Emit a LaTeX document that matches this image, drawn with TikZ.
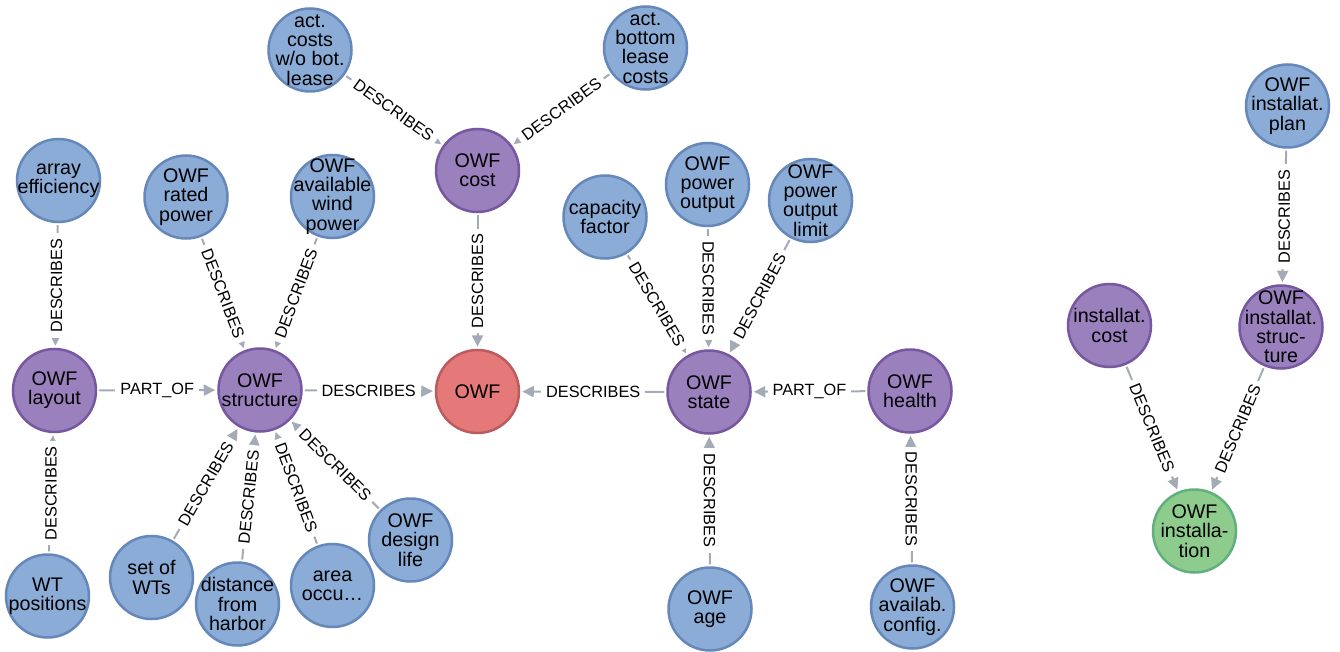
\documentclass[tikz,border=0pt]{standalone}
\usepackage{fontspec}
\setmainfont{Liberation Sans}
\usetikzlibrary{arrows.meta}
\definecolor{bfill}{HTML}{8AACD6}
\definecolor{bline}{HTML}{6587BA}
\definecolor{pfill}{HTML}{9B80BE}
\definecolor{pline}{HTML}{7657A0}
\definecolor{rfill}{HTML}{E57878}
\definecolor{rline}{HTML}{BA5C5F}
\definecolor{gfill}{HTML}{8ECC8E}
\definecolor{gline}{HTML}{60B07E}
\definecolor{egray}{HTML}{A5ABB6}
\begin{document}
\begin{tikzpicture}[x=1pt,y=-1pt,
  base/.style={circle, minimum size=83pt, inner sep=0pt, line width=2.5pt},
  ntext/.style={align=center, inner sep=0pt, text=black,
    font=\fontsize{19.7}{19.3}\selectfont},
  bluen/.style={base, fill=bfill, draw=bline},
  purpn/.style={base, fill=pfill, draw=pline},
  redn/.style={base, fill=rfill, draw=rline},
  greenn/.style={base, fill=gfill, draw=gline},
  rel/.style={draw=egray, line width=2pt, -{Triangle[length=11.5pt,width=11pt]},
    shorten <=2pt, shorten >=2pt},
  lbl/.style={fill=white, inner xsep=5pt, inner ysep=1pt,
    font=\fontsize{16.3}{16}\selectfont, text=black}]
\useasboundingbox (0,0) rectangle (1340,652);

% nodes
\node[bluen, label={[ntext]center:{act.\\costs\\w/o bot.\\lease}}] (actc) at (310,50) {};
\node[bluen, label={[ntext]center:{act.\\bottom\\lease\\costs}}] (actb) at (645.5,48) {};
\node[purpn, label={[ntext]center:{OWF\\cost}}] (cost) at (477.5,170.5) {};
\node[bluen, label={[ntext]center:{array\\efficiency}}] (arr) at (58.5,180.5) {};
\node[bluen, label={[ntext]center:{OWF\\rated\\power}}] (rated) at (186,197) {};
\node[bluen, label={[ntext]center:{OWF\\available\\wind\\power}}] (avail) at (332.5,196.5) {};
\node[bluen, label={[ntext]center:{capacity\\factor}}] (cap) at (605,217) {};
\node[bluen, label={[ntext]center:{OWF\\power\\output}}] (pout) at (707.5,184.5) {};
\node[bluen, label={[ntext]center:{OWF\\power\\output\\limit}}] (plim) at (810.5,200.5) {};
\node[bluen, label={[ntext]center:{OWF\\installat.\\plan}}] (plan) at (1287.5,106) {};
\node[purpn, label={[ntext]center:{OWF\\layout}}] (layout) at (54.5,390.5) {};
\node[purpn, label={[ntext]center:{OWF\\structure}}] (struct) at (260,390) {};
\node[redn, label={[ntext]center:{OWF}}] (owf) at (477.5,391.5) {};
\node[purpn, label={[ntext]center:{OWF\\state}}] (state) at (709,392) {};
\node[purpn, label={[ntext]center:{OWF\\health}}] (health) at (910,391) {};
\node[purpn, label={[ntext]center:{installat.\\cost}}] (icost) at (1109.5,325.5) {};
\node[purpn, label={[ntext]center:{OWF\\installat.\\struc-\\ture}}] (istruct) at (1281,327) {};
\node[greenn, label={[ntext]center:{OWF\\installa-\\tion}}] (inst) at (1194.5,531) {};
\node[bluen, label={[ntext]center:{WT\\positions}}] (wtpos) at (47.5,596) {};
\node[bluen, label={[ntext]center:{set of\\WTs}}] (setwt) at (151.5,577.5) {};
\node[bluen, label={[ntext]center:{distance\\from\\harbor}}] (dist) at (237.5,604) {};
\node[bluen, label={[ntext]center:{area\\occu…}}] (area) at (332.5,585.5) {};
\node[bluen, label={[ntext]center:{OWF\\design\\life}}] (design) at (410.5,540) {};
\node[bluen, label={[ntext]center:{OWF\\age}}] (age) at (710,609) {};
\node[bluen, label={[ntext]center:{OWF\\availab.\\config.}}] (conf) at (912.5,607) {};

% edges
\draw[rel] (actc) -- node[lbl, sloped]{DESCRIBES} (cost);
\draw[rel] (actb) -- node[lbl, sloped]{DESCRIBES} (cost);
\draw[rel] (cost) -- node[lbl, rotate=90]{DESCRIBES} (owf);
\draw[rel] (arr) -- node[lbl, rotate=90]{DESCRIBES} (layout);
\draw[rel] (rated) -- node[lbl, sloped]{DESCRIBES} (struct);
\draw[rel] (avail) -- node[lbl, sloped]{DESCRIBES} (struct);
\draw[rel] (layout) -- node[lbl]{PART\_OF} (struct);
\draw[rel] (struct) -- node[lbl]{DESCRIBES} (owf);
\draw[rel] (state) -- node[lbl]{DESCRIBES} (owf);
\draw[rel] (health) -- node[lbl]{PART\_OF} (state);
\draw[rel] (wtpos) -- node[lbl, rotate=90]{DESCRIBES} (layout);
\draw[rel] (setwt) -- node[lbl, sloped]{DESCRIBES} (struct);
\draw[rel] (dist) -- node[lbl, sloped]{DESCRIBES} (struct);
\draw[rel] (area) -- node[lbl, sloped]{DESCRIBES} (struct);
\draw[rel] (design) -- node[lbl, sloped]{DESCRIBES} (struct);
\draw[rel] (cap) -- node[lbl, sloped]{DESCRIBES} (state);
\draw[rel] (pout) -- node[lbl, rotate=-90]{DESCRIBES} (state);
\draw[rel] (plim) -- node[lbl, sloped]{DESCRIBES} (state);
\draw[rel] (age) -- node[lbl, rotate=-90]{DESCRIBES} (state);
\draw[rel] (conf) -- node[lbl, rotate=-90]{DESCRIBES} (health);
\draw[rel] (plan) -- node[lbl, rotate=90]{DESCRIBES} (istruct);
\draw[rel] (icost) -- node[lbl, sloped]{DESCRIBES} (inst);
\draw[rel] (istruct) -- node[lbl, sloped]{DESCRIBES} (inst);
\end{tikzpicture}
\end{document}
